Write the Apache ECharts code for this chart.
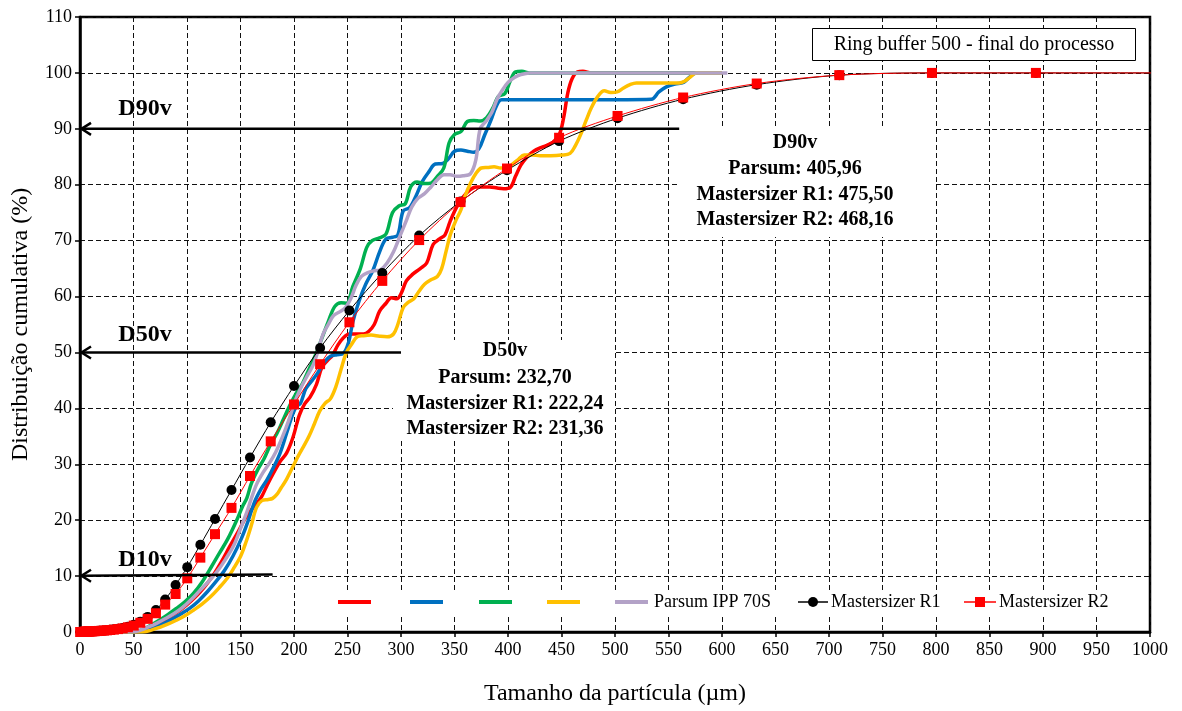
<!DOCTYPE html>
<html>
<head>
<meta charset="utf-8">
<script src="https://cdn.jsdelivr.net/npm/echarts@6/dist/echarts.min.js"></script>
<style>html,body{margin:0;padding:0;background:#fff}#chart{width:1182px;height:711px}</style>
</head>
<body>
<div id="chart"></div>
<script>
// Parsum IPP 70S runs: [size µm, cumulative %]
const parsumRed = [[0,0],[52,0],[60,0.4],[68,1.0],[76,1.8],[84,2.7],[92,3.7],[100,4.9],[108,6.3],[116,8.0],[124,10.0],[132,12.5],[140,15.3],[148,18.0],[154,20.2],[160,21.8],[166,23.2],[170,24.3],[175,26.3],[181,28.5],[187,30.5],[193,32.0],[199,34.8],[205,38.8],[210,40.8],[215,42.0],[221,44.3],[226,47.3],[231,48.5],[236,49.5],[241,51.3],[246,52.6],[252,53.3],[258,53.3],[265,53.3],[270,53.8],[275,55.0],[280,57.4],[286,58.8],[291,59.8],[296,59.6],[300,60.5],[305,62.8],[311,64.0],[318,65.0],[324,66.0],[330,69.3],[336,70.3],[341,71.0],[346,73.5],[352,76.0],[358,77.8],[364,79.0],[370,79.6],[377,79.6],[383,79.6],[390,79.4],[396,79.3],[402,79.5],[407,81.5],[412,83.5],[418,85.0],[424,86.0],[430,86.6],[436,87.0],[442,87.6],[448,89.0],[452,92.0],[456,96.5],[460,99.0],[465,100.2],[470,100.3],[478,100],[600,100]];
const parsumBlue = [[0,0],[55,0],[63,0.3],[71,0.9],[79,1.6],[87,2.4],[95,3.3],[103,4.3],[111,5.6],[119,7.2],[127,9.0],[135,11.0],[143,13.6],[151,16.8],[157,19.8],[163,23.2],[169,25.5],[175,27.3],[181,29.5],[187,32.0],[193,35.5],[198,38.5],[202,40.3],[206,40.9],[211,43.5],[217,45.0],[222,46.3],[228,48.2],[234,49.3],[240,49.6],[246,49.8],[251,51.8],[255,55.5],[261,59.3],[267,62.2],[274,64.8],[280,68.0],[286,70.3],[292,70.6],[297,71.0],[302,75.3],[308,75.9],[314,78.0],[320,80.6],[326,82.3],[332,83.7],[339,83.8],[345,84.8],[350,86.0],[356,86.2],[362,86.0],[368,85.8],[373,86.5],[378,88.8],[384,91.5],[389,94.0],[394,95.2],[420,95.2],[480,95.2],[534,95.3],[541,96.6],[548,97.5],[556,98.0],[564,98.3],[570,99.3],[576,100],[600,100]];
const parsumGreen = [[0,0],[50,0],[58,0.4],[66,1.2],[74,2.1],[82,3.1],[90,4.2],[98,5.4],[106,6.9],[114,8.9],[122,11.4],[130,14.0],[138,16.6],[146,19.8],[152,22.5],[156,24.0],[160,26.5],[166,29.0],[172,31.0],[178,33.5],[184,35.5],[190,38.0],[196,40.5],[202,42.7],[208,44.5],[214,47.0],[220,49.5],[226,52.5],[232,55.5],[238,58.2],[244,58.9],[249,58.8],[255,61.8],[262,65.0],[268,68.8],[273,70.0],[280,70.5],[286,71.2],[292,75.0],[298,76.2],[304,76.6],[309,79.6],[315,80.5],[322,80.2],[328,80.3],[334,81.5],[340,83.0],[345,87.5],[350,89.0],[356,89.5],[362,91.3],[368,91.5],[374,91.4],[380,92.0],[386,93.8],[391,95.8],[397,96.3],[402,98.5],[407,100.2],[413,100.3],[420,100],[600,100]];
const parsumYellow = [[0,0],[58,0],[66,0.3],[74,0.8],[82,1.4],[90,2.1],[98,2.9],[106,3.9],[114,5.0],[122,6.3],[130,7.9],[138,9.7],[144,11.5],[150,13.5],[155,16.0],[160,19.0],[165,22.3],[170,23.5],[176,23.7],[180,23.9],[184,24.6],[188,25.8],[193,27.3],[199,29.6],[204,31.5],[209,33.2],[214,35.0],[219,37.2],[224,39.5],[229,40.9],[234,41.7],[239,43.8],[244,47.0],[249,50.0],[254,51.5],[259,52.8],[265,53.0],[272,53.1],[280,52.9],[287,52.8],[293,53.3],[297,55.0],[302,58.0],[307,59.0],[312,59.6],[317,61.0],[322,62.2],[328,63.0],[334,63.6],[338,65.0],[342,68.0],[346,71.0],[351,73.5],[356,75.5],[360,78.0],[365,80.3],[370,82.0],[375,83.0],[381,83.1],[387,83.2],[393,83.0],[399,83.0],[405,83.8],[410,84.6],[415,85.3],[422,85.3],[430,85.2],[440,85.2],[450,85.3],[458,85.6],[463,87.0],[468,89.0],[473,91.5],[478,93.8],[484,95.8],[490,96.8],[496,96.5],[502,96.6],[508,97.3],[514,97.9],[520,98.2],[540,98.2],[560,98.2],[565,98.5],[570,99.2],[576,100],[600,100]];
const parsumLavender = [[0,0],[48,0],[56,0.3],[64,0.9],[72,1.6],[80,2.4],[88,3.3],[96,4.4],[104,5.8],[112,7.4],[120,9.0],[128,10.8],[136,13.0],[144,15.6],[150,18.5],[156,21.5],[160,23.8],[165,26.4],[171,28.5],[177,30.2],[183,32.2],[189,34.8],[195,37.8],[201,41.3],[206,43.5],[212,45.7],[218,47.8],[222,50.0],[227,53.2],[232,55.0],[237,56.6],[243,57.3],[248,58.0],[253,59.6],[258,62.0],[263,63.6],[269,64.3],[275,64.6],[281,64.8],[287,66.0],[293,68.0],[299,70.8],[305,73.6],[310,76.0],[316,77.6],[322,78.4],[328,79.6],[334,80.9],[340,81.8],[346,81.8],[352,81.5],[358,81.6],[365,82.0],[370,84.5],[374,90.0],[380,91.5],[385,93.0],[390,95.4],[395,97.0],[400,98.3],[406,99.2],[412,99.7],[420,100],[605,100]];

// Mastersizer size classes (µm) and cumulative % for each run
const msSizes = [0.502,0.564,0.632,0.710,0.796,0.893,1.002,1.125,1.262,1.416,1.589,1.783,2.000,2.244,2.518,2.825,3.170,3.557,3.991,4.477,5.024,5.637,6.325,7.096,7.962,8.934,10.024,11.247,12.619,14.159,15.887,17.825,20.000,22.440,25.179,28.251,31.698,35.566,39.905,44.774,50.238,56.368,63.246,70.963,79.621,89.337,100.237,112.468,126.191,141.589,158.866,178.250,200.000,224.404,251.785,282.508,316.979,355.656,399.052,447.744,502.377,563.677,632.456,709.627,796.214,893.367,1002.374];
const msR1 = [0,0,0,0,0,0,0,0,0,0,0,0,0,0,0,0,0.01,0.02,0.03,0.04,0.05,0.06,0.07,0.08,0.09,0.10,0.11,0.12,0.14,0.16,0.18,0.21,0.24,0.28,0.33,0.39,0.47,0.57,0.72,0.95,1.3,1.85,2.7,3.95,5.8,8.4,11.6,15.6,20.2,25.4,31.2,37.5,44.0,50.8,57.5,64.2,70.9,77.0,82.6,87.8,91.9,95.3,97.9,99.6,100,100,100];
const msR2 = [0,0,0,0,0,0,0,0,0,0,0,0,0,0,0,0,0.01,0.02,0.03,0.04,0.05,0.06,0.07,0.08,0.09,0.10,0.11,0.12,0.13,0.15,0.17,0.19,0.22,0.26,0.30,0.36,0.43,0.52,0.65,0.85,1.15,1.65,2.35,3.35,4.9,6.8,9.6,13.3,17.5,22.2,27.9,34.1,40.7,47.9,55.4,62.8,70.1,76.9,82.9,88.4,92.3,95.6,98.1,99.6,100,100,100];

// D90 / D50 / D10 reference arrows: [x from, y from, x to, y to]
const refArrows = [[560,90,0,90],[300,50,0,50],[180,10.3,0,10.05]];
const refArrowLabels = ['D90v','D50v','D10v'];
const d90Lines = ['D90v','Parsum: 405,96','Mastersizer R1: 475,50','Mastersizer R2: 468,16'];
const d50Lines = ['D50v','Parsum: 232,70','Mastersizer R1: 222,24','Mastersizer R2: 231,36'];
const chartTitle = 'Ring buffer 500 - final do processo';
const legendNames = ['Parsum IPP 70S','Mastersizer R1','Mastersizer R2'];

const FONT = '"Liberation Serif","Times New Roman",serif';
const colors = {red:'#FF0000', blue:'#0070C0', green:'#00B050', yellow:'#FFC000', lavender:'#B3A2C7'};

const chart = echarts.init(document.getElementById('chart'));

function parsumSeries(data, color) {
  return {type:'line', data:data, showSymbol:false, smooth:0.35,
    lineStyle:{color:color, width:3.5}, itemStyle:{color:color}, z:2, animation:false};
}

const graphics = [];
// annotation backgrounds
graphics.push({type:'rect', z:5, shape:{x:680,y:126,width:253,height:111}, style:{fill:'#fff'}});
graphics.push({type:'rect', z:5, shape:{x:393,y:340,width:221,height:100}, style:{fill:'#fff'}});
graphics.push({type:'rect', z:5, shape:{x:330,y:590,width:812,height:25}, style:{fill:'#fff'}});
graphics.push({type:'rect', z:5, shape:{x:812.5,y:28.5,width:323,height:32}, style:{fill:'#fff', stroke:'#000', lineWidth:1}});
graphics.push({type:'text', z:6, x:974, y:45, style:{text:chartTitle, font:'20px '+FONT, fill:'#000', textAlign:'center', textVerticalAlign:'middle'}});
const d90Y = [143,169,195,220];
d90Lines.forEach((t,i)=>graphics.push({type:'text', z:6, x:795, y:d90Y[i], style:{text:t, font:'bold 20px '+FONT, fill:'#000', textAlign:'center', textVerticalAlign:'middle'}}));
const d50Y = [351,378,404,429];
d50Lines.forEach((t,i)=>graphics.push({type:'text', z:6, x:505, y:d50Y[i], style:{text:t, font:'bold 20px '+FONT, fill:'#000', textAlign:'center', textVerticalAlign:'middle'}}));
const dLabY = [109,335,560];
refArrowLabels.forEach((t,i)=>graphics.push({type:'text', z:6, x:145, y:dLabY[i], style:{text:t, font:'bold 24px '+FONT, fill:'#000', textAlign:'center', textVerticalAlign:'middle'}}));

// legend row
const legY = 602;
[[338,colors.red],[410,colors.blue],[479,colors.green],[547,colors.yellow],[615,colors.lavender]].forEach(([x,c])=>{
  graphics.push({type:'line', z:6, shape:{x1:x,y1:legY,x2:x+33,y2:legY}, style:{stroke:c, lineWidth:4}});
});
graphics.push({type:'text', z:6, x:654, y:legY, style:{text:legendNames[0], font:'18px '+FONT, fill:'#000', textVerticalAlign:'middle'}});
graphics.push({type:'line', z:6, shape:{x1:798,y1:legY,x2:828,y2:legY}, style:{stroke:'#000', lineWidth:1.5}});
graphics.push({type:'circle', z:7, shape:{cx:813,cy:legY,r:5}, style:{fill:'#000'}});
graphics.push({type:'text', z:6, x:831, y:legY, style:{text:legendNames[1], font:'18px '+FONT, fill:'#000', textVerticalAlign:'middle'}});
graphics.push({type:'line', z:6, shape:{x1:964,y1:legY,x2:996,y2:legY}, style:{stroke:colors.red, lineWidth:1.5}});
graphics.push({type:'rect', z:7, shape:{x:975,y:legY-5,width:10,height:10}, style:{fill:colors.red}});
graphics.push({type:'text', z:6, x:999, y:legY, style:{text:legendNames[2], font:'18px '+FONT, fill:'#000', textVerticalAlign:'middle'}});

const option = {
  animation:false,
  backgroundColor:'#fff',
  textStyle:{fontFamily:FONT},
  grid:{left:80, right:32, top:17, bottom:79, containLabel:false, outerBoundsMode:'none',
    show:true, borderColor:'#000', borderWidth:2.5, backgroundColor:'transparent'},
  xAxis:{type:'value', min:0, max:1000, interval:50,
    name:'Tamanho da partícula (µm)', nameLocation:'middle', nameGap:50,
    nameTextStyle:{fontFamily:FONT, fontSize:24, color:'#000'},
    axisLine:{show:true, lineStyle:{color:'#000', width:2.5}},
    axisTick:{show:true, length:5, lineStyle:{color:'#000', width:1.5}},
    axisLabel:{fontFamily:FONT, fontSize:18, color:'#000', margin:9, formatter:(v)=>String(v)},
    splitLine:{show:true, lineStyle:{color:'#111', width:1, type:[5,3]}}},
  yAxis:{type:'value', min:0, max:110, interval:10,
    name:'Distribuição cumulativa (%)', nameLocation:'middle', nameGap:47, nameRotate:90,
    nameTextStyle:{fontFamily:FONT, fontSize:24, color:'#000'},
    axisLine:{show:true, lineStyle:{color:'#000', width:2.5}},
    axisTick:{show:true, length:5, lineStyle:{color:'#000', width:1.5}},
    axisLabel:{fontFamily:FONT, fontSize:18, color:'#000', margin:8},
    splitLine:{show:true, lineStyle:{color:'#111', width:1, type:[5,3]}}},
  series:[
    parsumSeries(parsumRed, colors.red),
    parsumSeries(parsumBlue, colors.blue),
    parsumSeries(parsumGreen, colors.green),
    parsumSeries(parsumYellow, colors.yellow),
    parsumSeries(parsumLavender, colors.lavender),
    {type:'line', name:legendNames[1], data:msSizes.map((s,i)=>[s,msR1[i]]), smooth:0.3,
      symbol:'circle', symbolSize:10, showSymbol:true,
      lineStyle:{color:'#000', width:1}, itemStyle:{color:'#000'}, z:3},
    {type:'line', name:legendNames[2], data:msSizes.map((s,i)=>[s,msR2[i]]), smooth:0.3,
      symbol:'rect', symbolSize:10, showSymbol:true,
      lineStyle:{color:colors.red, width:1}, itemStyle:{color:colors.red}, z:4},
    {type:'custom', data:refArrows, encode:{x:[0,2], y:[1,3]}, clip:false, z:8,
      renderItem:function(params, api){
        const a = api.coord([api.value(0), api.value(1)]);
        const b = api.coord([api.value(2), api.value(3)]);
        return {type:'group', children:[
          {type:'line', shape:{x1:a[0],y1:a[1],x2:b[0]+1,y2:b[1]}, style:{stroke:'#000', lineWidth:2.5}},
          {type:'polyline', shape:{points:[[b[0]+11,b[1]-6],[b[0]+1.5,b[1]],[b[0]+11,b[1]+6]]}, style:{stroke:'#000', lineWidth:2.5, fill:null}}
        ]};
      }}
  ],
  graphic:graphics
};
chart.setOption(option);
</script>
</body>
</html>
